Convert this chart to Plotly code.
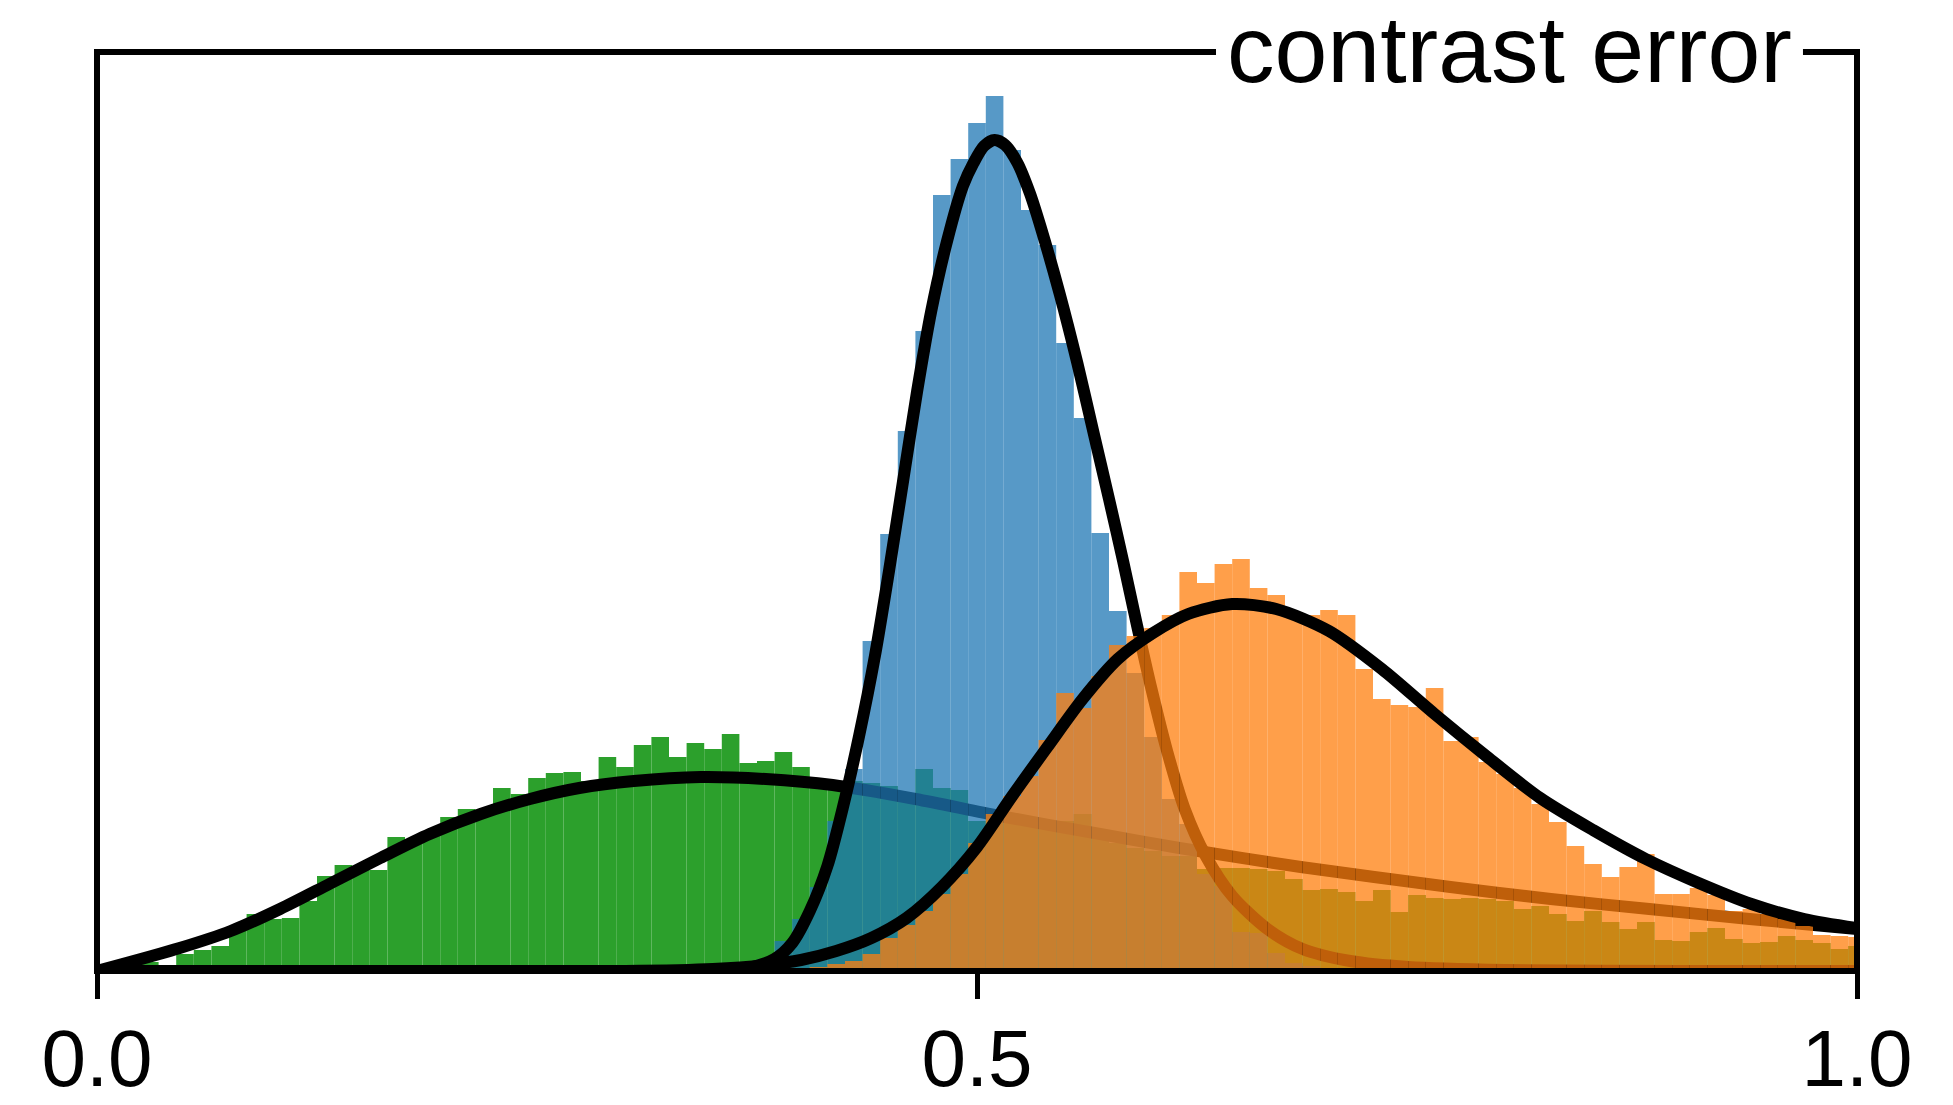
import plotly.graph_objects as go

# ---------------- data ----------------
bin_centers = [round(k * 0.01, 2) for k in range(101)]
bin_width = 0.01

green_counts = [0, 2, 5, 9, 6, 17, 21, 25, 42, 57,
                52, 53, 70, 95, 106, 105, 101, 134, 131, 140,
                154, 162, 160, 183, 177, 193, 198, 199, 190, 214,
                204, 226, 234, 214, 228, 222, 237, 208, 210, 219,
                204, 192, 190, 190, 188, 185, 178, 202, 183, 181,
                150, 152, 150, 148, 145, 150, 157, 140, 128, 123,
                120, 115, 115, 102, 103, 103, 102, 100, 92, 81,
                82, 79, 70, 81, 59, 76, 73, 72, 73, 72,
                70, 62, 65, 57, 50, 60, 49, 42, 49, 31,
                30, 39, 43, 32, 28, 29, 35, 31, 28, 22, 25]

blue_counts = [0] * 37 + [4, 12, 30, 52, 84, 150, 202, 330, 437, 540,
                          640, 776, 812, 848, 875, 821, 761, 726, 628, 553,
                          438, 360, 298, 234, 172, 147, 97, 85, 39, 38,
                          18, 8, 5, 3, 2, 1] + [0] * 28

orange_counts = [0] * 40 + [2, 4, 7, 10, 17, 33, 46, 60, 77, 97,
                            128, 157, 175, 195, 231, 278, 263, 295, 326, 335,
                            343, 356, 399, 388, 407, 412, 383, 376, 359, 356,
                            361, 356, 302, 272, 266, 264, 283, 230, 234, 209,
                            197, 183, 167, 149, 125, 107, 94, 104, 117, 77,
                            77, 83, 76, 60, 62, 57, 52, 45, 36, 35, 34]

green_fit_x = [0.0, 0.047, 0.076, 0.104, 0.132, 0.161, 0.189, 0.218, 0.246, 0.274,
               0.305, 0.343, 0.380, 0.418, 0.465, 0.513, 0.570, 0.615, 0.684, 0.769,
               0.826, 0.882, 0.939, 1.0]
green_fit_y = [0, 23, 40, 62, 87, 113, 137, 157, 172, 183,
               190, 194, 192, 186, 172, 155, 137, 123, 104, 84,
               72, 62, 52, 42]

blue_fit_x = [0.0, 0.30, 0.35, 0.37, 0.385, 0.395, 0.405, 0.415, 0.424, 0.433,
              0.442, 0.450, 0.458, 0.466, 0.474, 0.483, 0.492, 0.498, 0.504, 0.510,
              0.516, 0.523, 0.530, 0.536, 0.547, 0.557, 0.566, 0.575, 0.583, 0.591,
              0.599, 0.608, 0.618, 0.630, 0.645, 0.665, 0.685, 0.712, 0.745, 0.80,
              0.90, 1.0]
blue_fit_y = [0, 0, 0, 3, 12, 28, 60, 105, 165, 235,
              315, 400, 490, 580, 660, 730, 785, 808, 825, 831,
              826, 808, 778, 745, 677, 608, 540, 472, 410, 345,
              283, 220, 162, 115, 75, 42, 22, 10, 4, 1,
              0, 0]

orange_fit_x = [0.0, 0.30, 0.35, 0.38, 0.40, 0.42, 0.44, 0.46, 0.48, 0.50,
                0.52, 0.54, 0.56, 0.58, 0.60, 0.62, 0.645, 0.67, 0.70, 0.73,
                0.76, 0.79, 0.82, 0.85, 0.88, 0.91, 0.94, 0.97, 1.0]
orange_fit_y = [0, 0, 2, 6, 11, 20, 33, 53, 84, 124,
                175, 224, 272, 312, 338, 357, 367, 362, 340, 302,
                257, 214, 173, 141, 112, 88, 67, 52, 43]

x_tick_vals = [0.0, 0.5, 1.0]
x_tick_text = ["0.0", "0.5", "1.0"]
title_text = "contrast error"

# ---------------- style ----------------
FONT = "Liberation Sans, Arial, Helvetica, sans-serif"
Y_MAX = 919
X_RANGE = [0, 1]
TITLE_GAP = (0.6358, 0.9693)   # where the top spine is interrupted by the title

series = [
    ("x", "y", green_counts, green_fit_x, green_fit_y, "rgba(44,160,44,1.0)"),
    ("x2", "y2", blue_counts, blue_fit_x, blue_fit_y, "rgba(31,119,180,0.75)"),
    ("x3", "y3", orange_counts, orange_fit_x, orange_fit_y, "rgba(255,127,14,0.75)"),
]

fig = go.Figure()
for xa, ya, counts, fx, fy, color in series:
    fig.add_trace(go.Bar(
        x=bin_centers, y=counts, width=bin_width,
        marker=dict(color=color, line=dict(width=0)),
        xaxis=xa, yaxis=ya, showlegend=False, hoverinfo="skip",
    ))
    fig.add_trace(go.Scatter(
        x=fx, y=fy, mode="lines",
        line=dict(color="black", width=12, shape="spline", smoothing=0.8),
        xaxis=xa, yaxis=ya, showlegend=False, hoverinfo="skip",
    ))

hidden_x = dict(overlaying="x", range=X_RANGE, visible=False, showgrid=False, zeroline=False)
hidden_y = dict(overlaying="y", range=[0, Y_MAX], visible=False, showgrid=False, zeroline=False)

fig.update_layout(
    width=1953, height=1105,
    margin=dict(l=97, r=96, t=52, b=134, autoexpand=False),
    paper_bgcolor="white", plot_bgcolor="white",
    barmode="overlay", showlegend=False,
    xaxis=dict(
        range=X_RANGE, tickvals=x_tick_vals, ticktext=x_tick_text,
        ticks="outside", ticklen=27, tickwidth=5, tickcolor="black",
        ticklabelstandoff=-9,
        showline=False, showgrid=False, zeroline=False, automargin=False,
        tickfont=dict(family=FONT, size=80, color="black"),
    ),
    yaxis=dict(
        range=[0, Y_MAX], showticklabels=False, ticks="",
        showline=False, showgrid=False, zeroline=False, automargin=False,
    ),
    xaxis2=hidden_x, yaxis2=hidden_y,
    xaxis3=hidden_x, yaxis3=hidden_y,
)

# axes frame (spines), interrupted at the top by the title
g0, g1 = TITLE_GAP
fig.add_shape(
    type="path", xref="paper", yref="paper", layer="above",
    path=f"M {g0},1 L 0,1 L 0,0 L 1,0 L 1,1 L {g1},1",
    line=dict(color="black", width=6), fillcolor="rgba(0,0,0,0)",
)

fig.add_annotation(
    text=title_text, xref="paper", yref="paper",
    x=0.8026, y=1.0033, xanchor="center", yanchor="middle",
    showarrow=False,
    font=dict(family=FONT, size=95, color="black"),
)

# remove the browser's default 8px page margin so the figure fills the window exactly
fig.write_html(
    "out.html",
    config={"displayModeBar": False},
    post_script="document.body.style.margin='0px';",
)
